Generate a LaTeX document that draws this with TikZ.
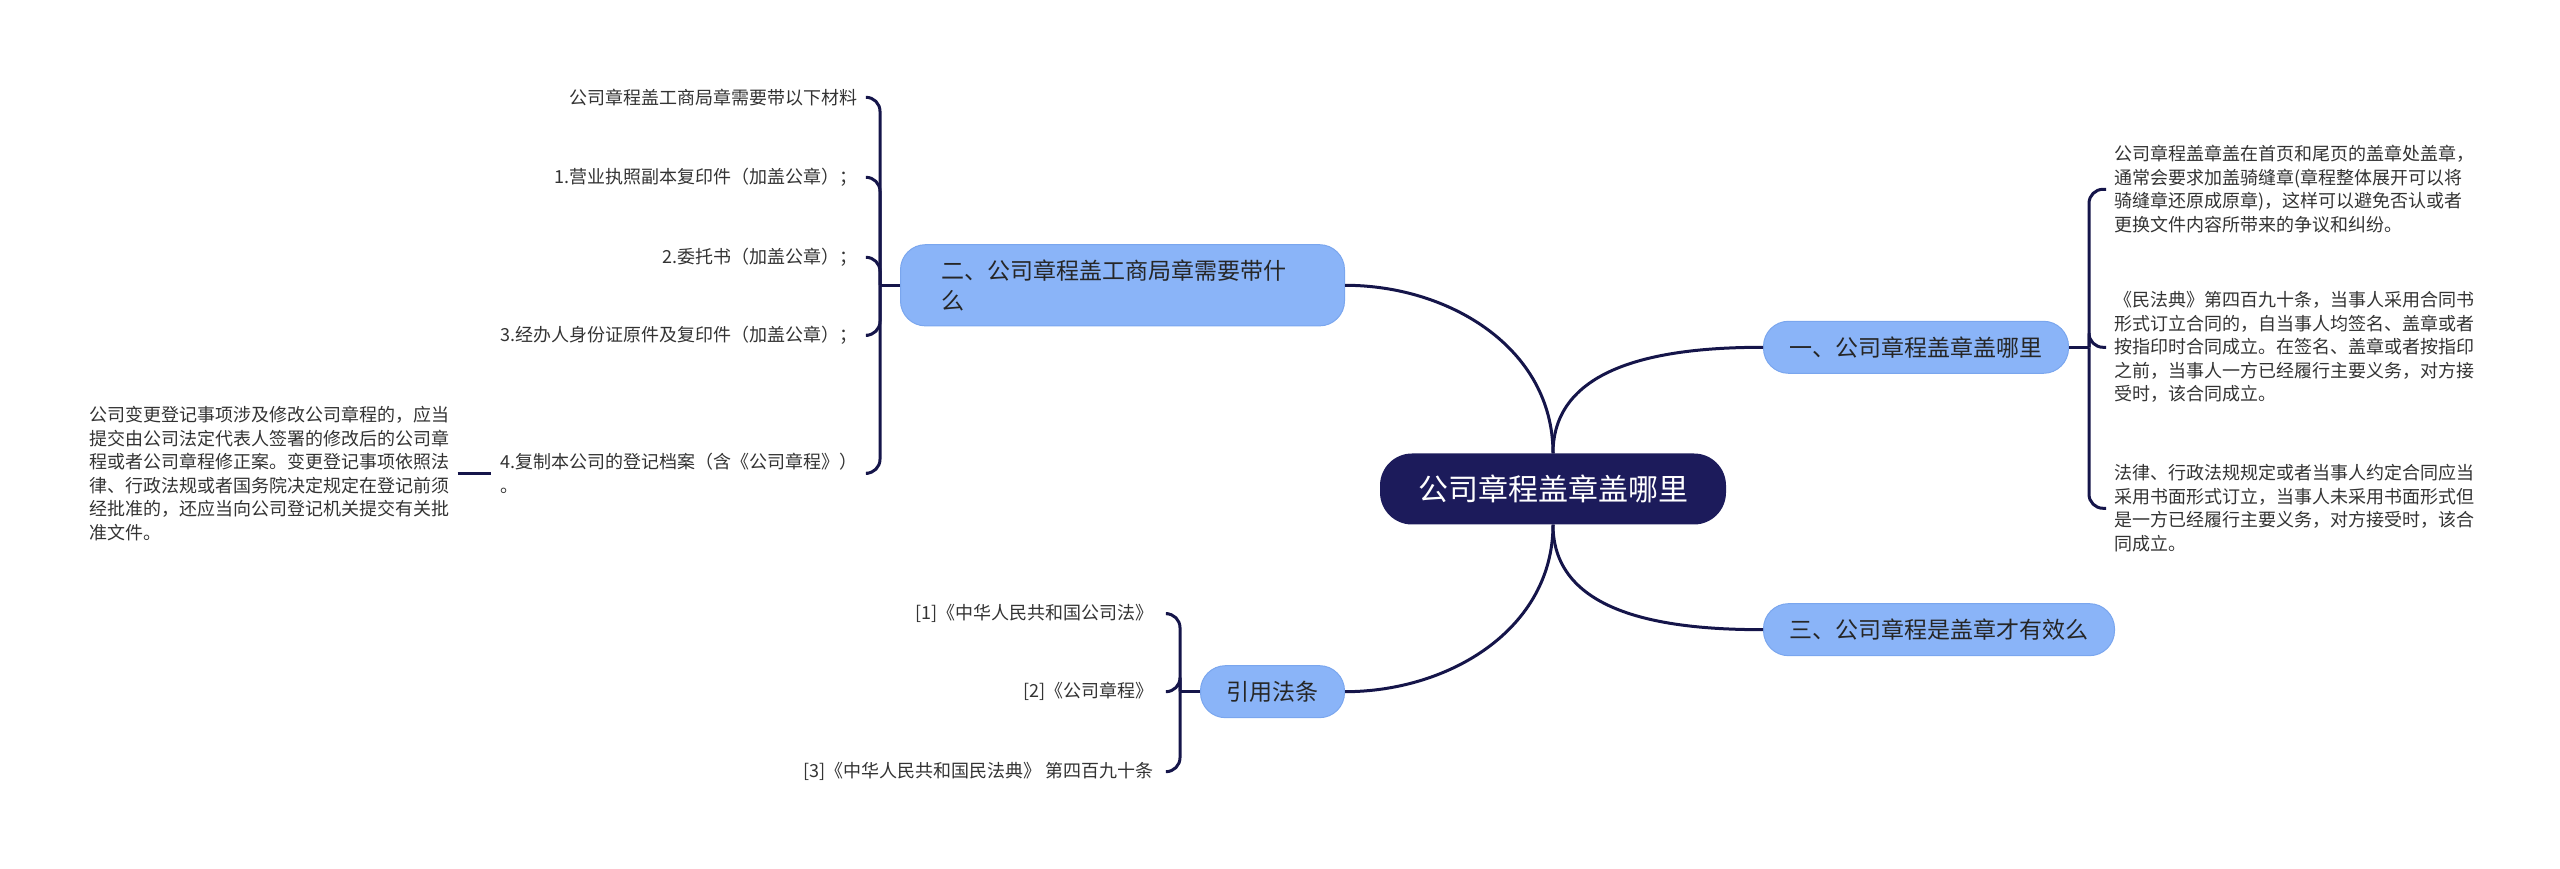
\documentclass[tikz,border=0pt]{standalone}
\usepackage{fontspec}
\setmainfont{Noto Sans CJK SC}
\usepackage{tikz}
\usetikzlibrary{positioning,calc}

\definecolor{rootfill}{HTML}{1C1B5B}
\definecolor{topicfill}{HTML}{8AB4F8}
\definecolor{topicline}{HTML}{7AA6EE}
\definecolor{linkcol}{HTML}{15154A}
\definecolor{textcol}{HTML}{333333}

\begin{document}
\begin{tikzpicture}[x=1pt,y=1pt]
    \tikzstyle{root} = [
      rectangle,
      fill=rootfill,
      text=white,
      rounded corners=32pt,
      minimum height=71pt,
      inner xsep=38pt,
      font=\fontsize{30}{36}\selectfont,
    ]
    \tikzstyle{topic} = [
      rectangle,
      fill=topicfill,
      draw=topicline,
      line width=1pt,
      rounded corners=25pt,
      minimum height=52pt,
      inner xsep=26pt,
      text=black!85,
      font=\fontsize{23}{30}\selectfont,
    ]
    \tikzstyle{leaf} = [
      inner xsep=8pt,
      inner ysep=2pt,
      align=left,
      text=textcol,
      font=\fontsize{18}{23.5}\selectfont,
    ]
    \tikzstyle{link} = [
      line width=3pt,
      draw=linkcol,
    ]
    \tikzstyle{bracket} = [
      link,
      rounded corners=14pt,
    ]

    \newcommand{\trunk}[0]{20pt}

    \useasboundingbox (0,0) rectangle (2560,869);
    \coordinate (origo) at (1553,380);

    \node[root] (main) at (origo) {公司章程盖章盖哪里};

    \node[topic,anchor=west] (where) at ([xshift=210pt,yshift=106pt] main.north) {一、公司章程盖章盖哪里};
    \node[topic,anchor=east,text width=362pt,inner xsep=41pt,inner ysep=15pt] (bring) at ([xshift=-208pt,yshift=168pt] main.north) {二、公司章程盖工商局章需要带什\\么};
    \node[topic,anchor=west] (valid) at ([xshift=210pt,yshift=-105pt] main.south) {三、公司章程是盖章才有效么};
    \node[topic,anchor=east] (laws) at ([xshift=-208pt,yshift=-167pt] main.south) {引用法条};

    \coordinate (jwhere) at ([xshift=\trunk] where.east);
    \coordinate (jbring) at ([xshift=-\trunk] bring.west);
    \coordinate (jlaws) at ([xshift=-\trunk] laws.west);

    % where to seal
    \node[leaf,anchor=west] (seal) at ([xshift=17pt,yshift=158pt] jwhere) {公司章程盖章盖在首页和尾页的盖章处盖章，\\通常会要求加盖骑缝章(章程整体展开可以将\\骑缝章还原成原章)，这样可以避免否认或者\\更换文件内容所带来的争议和纠纷。};
    \node[leaf,anchor=west] (civil) at ([xshift=17pt] jwhere) {《民法典》第四百九十条，当事人采用合同书\\形式订立合同的，自当事人均签名、盖章或者\\按指印时合同成立。在签名、盖章或者按指印\\之前，当事人一方已经履行主要义务，对方接\\受时，该合同成立。};
    \node[leaf,anchor=west] (form) at ([xshift=17pt,yshift=-161pt] jwhere) {法律、行政法规规定或者当事人约定合同应当\\采用书面形式订立，当事人未采用书面形式但\\是一方已经履行主要义务，对方接受时，该合\\同成立。};

    % materials
    \node[leaf,anchor=east,inner xsep=10pt] (mat) at ([xshift=-12pt,yshift=188pt] jbring) {公司章程盖工商局章需要带以下材料};
    \node[leaf,anchor=east,inner xsep=10pt] (matI) at ([xshift=-12pt,yshift=108pt] jbring) {1.营业执照副本复印件（加盖公章）；};
    \node[leaf,anchor=east,inner xsep=10pt] (matII) at ([xshift=-12pt,yshift=28pt] jbring) {2.委托书（加盖公章）；};
    \node[leaf,anchor=east,inner xsep=10pt] (matIII) at ([xshift=-12pt,yshift=-50pt] jbring) {3.经办人身份证原件及复印件（加盖公章）；};
    \node[leaf,anchor=east,inner xsep=10pt] (matIV) at ([xshift=-12pt,yshift=-188pt] jbring) {4.复制本公司的登记档案（含《公司章程》）\\。};
    \node[leaf,left=33pt of matIV] (change) {公司变更登记事项涉及修改公司章程的，应当\\提交由公司法定代表人签署的修改后的公司章\\程或者公司章程修正案。变更登记事项依照法\\律、行政法规或者国务院决定规定在登记前须\\经批准的，还应当向公司登记机关提交有关批\\准文件。};

    % references
    \node[leaf,anchor=east,inner xsep=14pt] (refI) at ([xshift=-12pt,yshift=78pt] jlaws) {[1]《中华人民共和国公司法》};
    \node[leaf,anchor=east,inner xsep=14pt] (refII) at ([xshift=-12pt] jlaws) {[2]《公司章程》};
    \node[leaf,anchor=east,inner xsep=14pt] (refIII) at ([xshift=-12pt,yshift=-80pt] jlaws) {[3]《中华人民共和国民法典》 第四百九十条};

    \draw[link] (main.north) to[out=90,in=180] (where.west);
    \draw[link] (main.north) to[out=90,in=0] (bring.east);
    \draw[link] (main.south) to[out=-90,in=180] (valid.west);
    \draw[link] (main.south) to[out=-90,in=0] (laws.east);

    \draw[link] (where.east) -- (jwhere);
    \draw[link] (bring.west) -- (jbring);
    \draw[link] (laws.west) -- (jlaws);

    \foreach \leaf in {seal,civil,form}
      \draw[bracket] (jwhere) |- (\leaf.west);
    \foreach \leaf in {mat,matI,matII,matIII,matIV}
      \draw[bracket] (jbring) |- (\leaf.east);
    \foreach \leaf in {refI,refII,refIII}
      \draw[bracket] (jlaws) |- (\leaf.east);

    \draw[link] (change) -- (matIV);
  \end{tikzpicture}
\end{document}
